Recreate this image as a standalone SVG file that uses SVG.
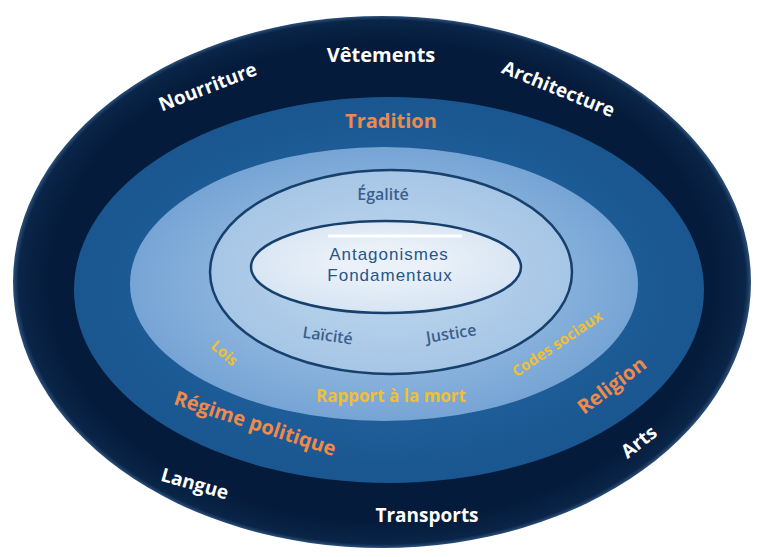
<svg xmlns="http://www.w3.org/2000/svg" width="758" height="557" viewBox="0 0 758 557">
<defs>
<radialGradient id="gOuter" cx="0.5" cy="0.5" r="0.5">
<stop offset="0.9" stop-color="#051b3b"/>
<stop offset="0.985" stop-color="#0a2548"/>
<stop offset="1" stop-color="#2b4f7a"/>
</radialGradient>
<radialGradient id="gMid" cx="0.5" cy="0.5" r="0.5">
<stop offset="0.7" stop-color="#1e5d98"/>
<stop offset="1" stop-color="#1a5690"/>
</radialGradient>
<radialGradient id="gLight" cx="0.5" cy="0.5" r="0.5">
<stop offset="0.6" stop-color="#8cb5de"/>
<stop offset="1" stop-color="#76a4d4"/>
</radialGradient>
<radialGradient id="gFourth" cx="0.5" cy="0.5" r="0.5">
<stop offset="0.5" stop-color="#b3cfea"/>
<stop offset="1" stop-color="#a6c6e6"/>
</radialGradient>
<radialGradient id="gInner" cx="0.5" cy="0.45" r="0.55">
<stop offset="0.3" stop-color="#eaf1f9"/>
<stop offset="1" stop-color="#d6e4f2"/>
</radialGradient>
<style>
.w{font-family:"Open Sans","Noto Sans",sans-serif;font-weight:700;fill:#ffffff;text-anchor:middle}
.o{font-family:"Open Sans","Noto Sans",sans-serif;font-weight:700;fill:#ef8a4c;text-anchor:middle}
.y{font-family:"Open Sans","Noto Sans",sans-serif;font-weight:700;fill:#efbf34;text-anchor:middle}
.b{font-family:"Open Sans","Noto Sans",sans-serif;font-weight:600;fill:#3b5f8c;text-anchor:middle}
.a{font-family:"Liberation Sans",Arial,sans-serif;fill:#28558a;text-anchor:middle;letter-spacing:1px}
</style>
</defs>
<rect width="758" height="557" fill="#ffffff"/>
<g id="ring-outer">
<ellipse cx="382" cy="282" rx="369" ry="266" fill="url(#gOuter)"/>
<text class="w" font-size="20" x="381" y="62">Vêtements</text>
<text class="w" font-size="19" transform="translate(210,93) rotate(-21)" x="0" y="0">Nourriture</text>
<text class="w" font-size="19" transform="translate(556,95) rotate(22)" x="0" y="0">Architecture</text>
<text class="w" font-size="19" transform="translate(193,490) rotate(16)" x="0" y="0">Langue</text>
<text class="w" font-size="19" x="427" y="522">Transports</text>
<text class="w" font-size="19" transform="translate(643,447) rotate(-38)" x="0" y="0">Arts</text>
</g>
<g id="ring-mid">
<ellipse cx="389" cy="290" rx="315" ry="193" fill="url(#gMid)"/>
<text class="o" font-size="20" x="391" y="128">Tradition</text>
<text class="o" font-size="20" transform="translate(253,430) rotate(18)" x="0" y="0">Régime politique</text>
<text class="o" font-size="20" transform="translate(616,391) rotate(-37)" x="0" y="0">Religion</text>
</g>
<g id="ring-light">
<ellipse cx="384" cy="284" rx="254" ry="137" fill="url(#gLight)"/>
<text class="y" font-size="15" transform="translate(221,357) rotate(41)" x="0" y="0">Lois</text>
<text class="y" font-size="17" x="391" y="402">Rapport à la mort</text>
<text class="y" font-size="15" transform="translate(560,348) rotate(-34)" x="0" y="0">Codes sociaux</text>
</g>
<g id="ring-values">
<ellipse cx="391" cy="272" rx="181" ry="102" fill="url(#gFourth)" stroke="#17406c" stroke-width="2.5"/>
<text class="b" font-size="16" x="383" y="200">Égalité</text>
<text class="b" font-size="16" transform="translate(327,341) rotate(8)" x="0" y="0">Laïcité</text>
<text class="b" font-size="16" transform="translate(452,339) rotate(-9)" x="0" y="0">Justice</text>
</g>
<g id="core">
<ellipse cx="386" cy="267" rx="135" ry="46" fill="url(#gInner)" stroke="#17406c" stroke-width="2.5"/>
<line x1="328" y1="236" x2="462" y2="236" stroke="#ffffff" stroke-width="3"/>
<text class="a" font-size="17" x="389" y="260">Antagonismes</text>
<text class="a" font-size="17" x="390" y="281">Fondamentaux</text>
</g>
</svg>
